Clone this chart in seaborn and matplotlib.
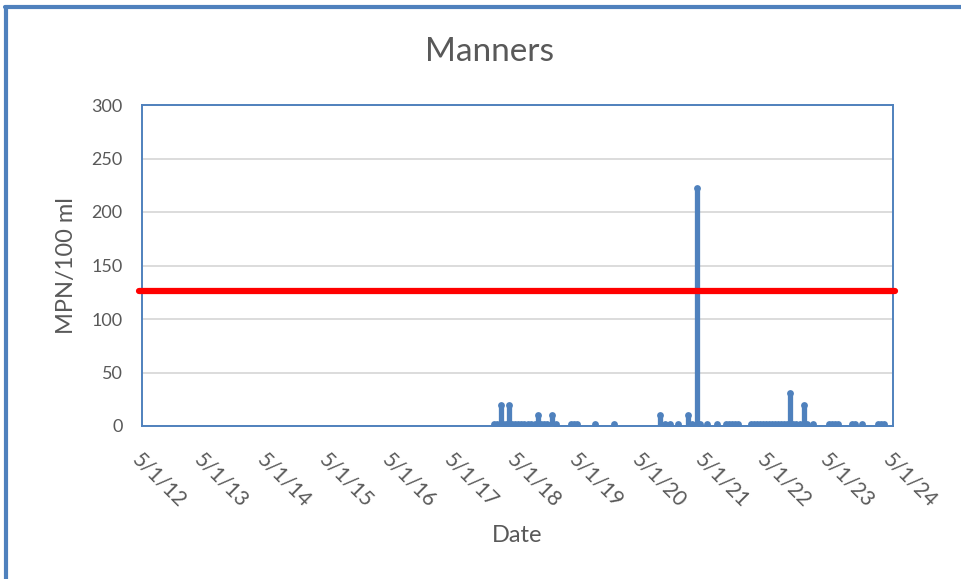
import matplotlib
matplotlib.use("Agg")
import matplotlib.pyplot as plt
from matplotlib.lines import Line2D
import seaborn as sns
import pandas as pd

# sample dates and MPN/100 ml values
sample_dates = [
    "2017-12-15", "2018-01-03", "2018-01-26", "2018-02-07", "2018-02-24",
    "2018-03-13", "2018-04-01", "2018-04-17", "2018-05-04", "2018-05-22",
    "2018-06-09", "2018-07-02", "2018-07-19", "2018-08-12", "2018-08-29",
    "2018-09-16", "2018-10-03", "2018-10-21", "2018-11-19", "2018-12-12",
    "2019-03-10", "2019-03-28", "2019-04-14", "2019-07-28", "2019-11-15",
    "2020-08-11", "2020-09-09", "2020-10-08", "2020-11-24", "2021-01-22",
    "2021-02-14", "2021-03-15", "2021-04-02", "2021-05-12", "2021-07-09",
    "2021-08-31", "2021-09-18", "2021-10-05", "2021-10-23", "2021-11-09",
    "2022-01-24", "2022-02-11", "2022-02-28", "2022-03-18", "2022-04-05",
    "2022-04-22", "2022-05-10", "2022-05-27", "2022-06-14", "2022-07-01",
    "2022-07-18", "2022-08-05", "2022-08-22", "2022-09-09", "2022-09-26",
    "2022-10-13", "2022-11-06", "2022-11-29", "2022-12-16", "2023-01-21",
    "2023-04-23", "2023-05-11", "2023-05-28", "2023-06-15", "2023-09-05",
    "2023-09-23", "2023-11-02", "2024-02-04", "2024-02-22", "2024-03-10",
]
mpn_values = [
    2, 2, 20, 2, 2,
    20, 2, 2, 2, 2,
    2, 2, 2, 2, 10,
    2, 2, 2, 10, 2,
    2, 2, 2, 2, 2,
    10, 2, 2, 2, 10,
    2, 222, 2, 2, 2,
    2, 2, 2, 2, 2,
    2, 2, 2, 2, 2,
    2, 2, 2, 2, 2,
    2, 2, 2, 31, 2,
    2, 2, 20, 2, 2,
    2, 2, 2, 2, 2,
    2, 2, 2, 2, 2,
]
threshold = 126

tick_dates = ["2012-05-01", "2013-05-01", "2014-05-01", "2015-05-01",
              "2016-05-01", "2017-05-01", "2018-05-01", "2019-05-01",
              "2020-05-01", "2021-05-01", "2022-05-01", "2023-05-01",
              "2024-05-01"]
tick_labels = ["5/1/12", "5/1/13", "5/1/14", "5/1/15", "5/1/16", "5/1/17",
               "5/1/18", "5/1/19", "5/1/20", "5/1/21", "5/1/22", "5/1/23",
               "5/1/24"]
y_ticks = [0, 50, 100, 150, 200, 250, 300]

blue = "#4f81bd"
grey_text = "#595959"

sns.set_style("white")
plt.rcParams["font.family"] = ["Lato", "DejaVu Sans"]

df = pd.DataFrame({"date": pd.to_datetime(sample_dates), "mpn": mpn_values})
ticks = pd.to_datetime(tick_dates)

fig = plt.figure(figsize=(9.61, 5.79), dpi=100)
ax = fig.add_axes([142 / 961, 1 - 426 / 579, (893 - 142) / 961, (426 - 105) / 579])

# gridlines
ax.set_ylim(0, 300)
ax.set_yticks(y_ticks)
ax.grid(axis="y", color="#d9d9d9", lw=1.3)
ax.set_axisbelow(True)

# data stems + markers
ax.vlines(df["date"], 0, df["mpn"], color=blue, lw=3.8, capstyle="round", zorder=3)
sns.scatterplot(data=df, x="date", y="mpn", ax=ax, color=blue, s=24,
                edgecolor=None, linewidth=0, zorder=4)

# standard line
ax.axhline(threshold, xmin=-0.004, xmax=1.003, color="red", lw=4.5,
           clip_on=False, zorder=5)

ax.set_xlim(ticks[0], ticks[-1])
ax.set_xticks(ticks)
ax.set_xticklabels(tick_labels, rotation=-45, ha="left", va="top",
                   rotation_mode="anchor", fontsize=15, color=grey_text)
ax.tick_params(axis="x", direction="out", length=7, width=1.3, color=blue, pad=10)
ax.tick_params(axis="y", length=0, labelsize=13, labelcolor=grey_text, pad=14)

for s in ax.spines.values():
    s.set_color(blue)
    s.set_linewidth(1.4)

ax.set_xlabel("Date", fontsize=17, color=grey_text, labelpad=10)
ax.set_ylabel("MPN/100 ml", fontsize=17, color=grey_text, labelpad=10)
fig.text(0.509, 1 - 52 / 579, "Manners", ha="center", va="center",
         fontsize=24, color=grey_text)

# outer chart border (left and top visible)
fig.add_artist(Line2D([6 / 961, 6 / 961], [0, 1 - 7 / 579], color=blue, lw=3))
fig.add_artist(Line2D([5 / 961, 1.0], [1 - 7 / 579, 1 - 7 / 579], color=blue, lw=3))

fig.savefig("out.png", dpi=100)
